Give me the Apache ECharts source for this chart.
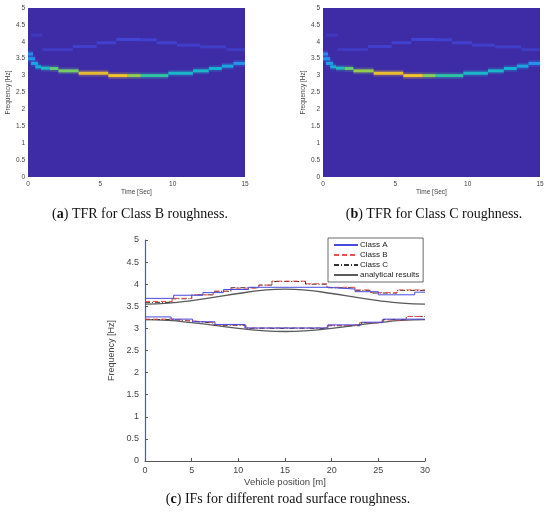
<!DOCTYPE html>
<html>
<head>
<meta charset="utf-8">
<script src="https://cdn.jsdelivr.net/npm/echarts@6/dist/echarts.min.js"></script>
<style>
  html, body { margin: 0; padding: 0; background: #fff; }
  #drew { width: 550px; height: 513px; }
</style>
</head>
<body>
<div id="drew"></div>
<script>
// ridge cells of the time-frequency pictures (a) and (b)
var tfrStart = [0, 0, 0.2, 0.5, 0.9, 1.5, 2.1, 3.5, 5.55, 6.9, 7.8, 9.7, 11.4, 12.5, 13.4, 14.2,
                0.2, 1.0, 3.1, 4.75, 6.1, 7.75, 8.9, 10.3, 11.9, 13.7];
var tfrEnd   = [0.35, 0.5, 0.7, 0.9, 1.5, 2.1, 3.5, 5.55, 6.9, 7.8, 9.7, 11.4, 12.5, 13.4, 14.2, 15,
                1.0, 3.1, 4.75, 6.1, 7.75, 8.9, 10.3, 11.9, 13.7, 15];
var tfrFreq  = [3.64, 3.5, 3.36, 3.26, 3.22, 3.21, 3.14, 3.07, 3.0, 3.0, 3.0, 3.07, 3.14, 3.21, 3.28, 3.36,
                4.2, 3.77, 3.86, 3.97, 4.07, 4.06, 3.97, 3.9, 3.85, 3.77];
var tfrLevelB = [0.25, 0.28, 0.32, 0.36, 0.42, 0.55, 0.58, 0.74, 0.78, 0.62, 0.48, 0.4, 0.4, 0.38, 0.34, 0.28,
                 0.04, 0.05, 0.06, 0.07, 0.08, 0.07, 0.065, 0.06, 0.055, 0.05];
var tfrLevelC = [0.25, 0.28, 0.32, 0.36, 0.42, 0.56, 0.62, 0.76, 0.78, 0.6, 0.47, 0.4, 0.4, 0.38, 0.34, 0.28,
                 0.04, 0.05, 0.06, 0.07, 0.08, 0.07, 0.065, 0.06, 0.055, 0.05];

// instantaneous frequencies, panel (c)
var classAUpperX = [0, 3.07, 6.2, 8.4, 11.1, 19.5, 22.5, 25, 28.9, 30];
var classAUpperY = [3.68, 3.75, 3.81, 3.88, 3.93, 3.89, 3.83, 3.76, 3.82, 3.82];
var classALowerX = [0, 2.8, 5.1, 7.5, 10.7, 19.6, 23.2, 25.5, 30];
var classALowerY = [3.26, 3.21, 3.15, 3.09, 3.01, 3.08, 3.14, 3.21, 3.21];
var classBUpperX = [0, 2.9, 5, 7.3, 9.2, 12.2, 13.6, 17.2, 19.5, 22.5, 24.2, 27, 30];
var classBUpperY = [3.61, 3.68, 3.76, 3.84, 3.91, 3.98, 4.07, 4.01, 3.93, 3.87, 3.81, 3.87, 3.87];
var classBLowerX = [0, 3, 5.2, 7.4, 10.8, 19.5, 23, 25.4, 28, 30];
var classBLowerY = [3.21, 3.17, 3.13, 3.08, 3.01, 3.07, 3.13, 3.19, 3.27, 3.27];
var classCUpperX = [0, 2.9, 5, 7.3, 9.2, 12.2, 13.6, 17.2, 19.5, 22.5, 24.2, 27, 30];
var classCUpperY = [3.59, 3.67, 3.76, 3.84, 3.92, 3.98, 4.06, 4.0, 3.92, 3.86, 3.8, 3.86, 3.86];
var classCLowerX = [0, 3, 5.3, 7.4, 10.8, 19.5, 23, 25.5, 28, 30];
var classCLowerY = [3.2, 3.16, 3.12, 3.07, 3.0, 3.06, 3.13, 3.2, 3.27, 3.27];
var analyticX = [0, 2.5, 5, 7.5, 10, 12.5, 15, 17.5, 20, 22.5, 25, 27.5, 30];
var analyticUpper = [3.55, 3.57, 3.63, 3.71, 3.79, 3.86, 3.89, 3.86, 3.79, 3.71, 3.63, 3.57, 3.55];
var analyticLower = [3.2, 3.18, 3.13, 3.07, 3.0, 2.95, 2.93, 2.95, 3.0, 3.07, 3.13, 3.18, 3.2];

function cells(levels) {
  return tfrStart.map(function (t, i) { return [t, tfrEnd[i], tfrFreq[i], levels[i]]; });
}
function pairs(xs, ys) {
  return xs.map(function (x, i) { return [x, ys[i]]; });
}

function renderTfr(params, api) {
  var a = api.coord([api.value(0), api.value(2) + 0.045]);
  var b = api.coord([api.value(1), api.value(2) - 0.045]);
  var g1 = api.coord([api.value(0), api.value(2) + 0.1]);
  var g2 = api.coord([api.value(1), api.value(2) - 0.1]);
  var col = api.visual('color');
  var faint = api.value(3) < 0.2;
  return {
    type: 'group',
    children: [
      { type: 'rect', shape: { x: g1[0], y: g1[1], width: g2[0] - g1[0], height: g2[1] - g1[1] },
        style: { fill: col, opacity: faint ? 0 : 0.22 } },
      { type: 'rect', shape: { x: a[0], y: a[1], width: b[0] - a[0], height: b[1] - a[1] },
        style: { fill: col } }
    ]
  };
}

var sans = 'Liberation Sans';
var serif = 'Liberation Serif';
var tickCol = '#444';

function tfrX(gi) {
  return {
    type: 'value', gridIndex: gi, min: 0, max: 15, interval: 5,
    name: 'Time [Sec]', nameLocation: 'middle', nameGap: 12,
    nameTextStyle: { fontFamily: sans, fontSize: 6.5, color: tickCol },
    axisLine: { show: false }, axisTick: { show: false }, splitLine: { show: false },
    axisLabel: { fontFamily: sans, fontSize: 6.5, color: tickCol, margin: 4 }
  };
}
function tfrY(gi) {
  return {
    type: 'value', gridIndex: gi, min: 0, max: 5, interval: 0.5,
    name: 'Frequency [Hz]', nameLocation: 'middle', nameGap: 15,
    nameTextStyle: { fontFamily: sans, fontSize: 6.5, color: tickCol },
    axisLine: { show: false }, axisTick: { show: false }, splitLine: { show: false },
    axisLabel: { fontFamily: sans, fontSize: 6.5, color: tickCol, margin: 3 }
  };
}
function caption(letter, text, x, y) {
  return {
    text: '({b|' + letter + '}) ' + text, left: x, top: y, textAlign: 'center',
    textStyle: { fontFamily: serif, fontSize: 14, fontWeight: 'normal', color: '#111',
      rich: { b: { fontFamily: serif, fontSize: 14, fontWeight: 'bold', color: '#111' } } }
  };
}

function stepLine(name, data, color, type, z) {
  return {
    type: 'line', name: name, xAxisIndex: 2, yAxisIndex: 2, data: data,
    step: 'end', symbol: 'none', z: z,
    lineStyle: { color: color, width: 1, type: type },
    itemStyle: { color: color }
  };
}

var myChart = echarts.init(document.getElementById('drew'));
var option = {
  backgroundColor: '#fff',
  animation: false,
  title: [
    caption('a', 'TFR for Class B roughness.', 135, 202),
    caption('b', 'TFR for Class C roughness.', 429, 202),
    caption('c', 'IFs for different road surface roughness.', 283, 487)
  ],
  grid: [
    { left: 28, top: 8, width: 217, height: 169, show: true, backgroundColor: '#3e2ca6', borderWidth: 0 },
    { left: 323, top: 8, width: 217, height: 169, show: true, backgroundColor: '#3e2ca6', borderWidth: 0 },
    { left: 145, top: 240, width: 280, height: 221 }
  ],
  xAxis: [
    tfrX(0), tfrX(1),
    {
      type: 'value', gridIndex: 2, min: 0, max: 30, interval: 5,
      name: 'Vehicle position [m]', nameLocation: 'middle', nameGap: 16,
      nameTextStyle: { fontFamily: sans, fontSize: 9.5, color: tickCol },
      axisLine: { lineStyle: { color: '#555' } },
      axisTick: { inside: true, length: 3, lineStyle: { color: '#555' } },
      splitLine: { show: false },
      axisLabel: { fontFamily: sans, fontSize: 9, color: tickCol, margin: 5 }
    }
  ],
  yAxis: [
    tfrY(0), tfrY(1),
    {
      type: 'value', gridIndex: 2, min: 0, max: 5, interval: 0.5,
      name: 'Frequency [Hz]', nameLocation: 'middle', nameGap: 27,
      nameTextStyle: { fontFamily: sans, fontSize: 9, color: tickCol },
      axisLine: { lineStyle: { color: '#4f4fe0', width: 1.2 } },
      axisTick: { inside: true, length: 3, lineStyle: { color: '#555' } },
      splitLine: { show: false },
      axisLabel: { fontFamily: sans, fontSize: 9, color: tickCol, margin: 6 }
    }
  ],
  visualMap: {
    show: false, type: 'continuous', min: 0, max: 1, dimension: 3, seriesIndex: [0, 1],
    inRange: { color: ['#3e2ca6', '#4352f0', '#2c87f5', '#14b1d6', '#37c897', '#98cc4e', '#ecba33', '#f9dc1f', '#f9fb0e'] }
  },
  legend: {
    data: ['Class A', 'Class B', 'Class C', 'analytical results'],
    orient: 'vertical', left: 328, top: 238,
    backgroundColor: '#fff', borderColor: '#444', borderWidth: 0.8,
    padding: [3, 4, 3, 5], itemGap: 2, itemWidth: 24, itemHeight: 8,
    itemStyle: { opacity: 0 },
    textStyle: { fontFamily: sans, fontSize: 8, color: '#222', padding: [0, 0, 0, -3] }
  },
  series: [
    { type: 'custom', xAxisIndex: 0, yAxisIndex: 0, renderItem: renderTfr, clip: true,
      encode: { x: [0, 1], y: 2 }, data: cells(tfrLevelB) },
    { type: 'custom', xAxisIndex: 1, yAxisIndex: 1, renderItem: renderTfr, clip: true,
      encode: { x: [0, 1], y: 2 }, data: cells(tfrLevelC) },
    { type: 'line', name: 'analytical results', xAxisIndex: 2, yAxisIndex: 2, smooth: true, symbol: 'none', z: 2,
      data: pairs(analyticX, analyticUpper), lineStyle: { color: '#5a5a5a', width: 1.3 }, itemStyle: { color: '#5a5a5a' } },
    { type: 'line', name: 'analytical results', xAxisIndex: 2, yAxisIndex: 2, smooth: true, symbol: 'none', z: 2,
      data: pairs(analyticX, analyticLower), lineStyle: { color: '#5a5a5a', width: 1.3 }, itemStyle: { color: '#5a5a5a' } },
    stepLine('Class C', pairs(classCUpperX, classCUpperY), '#333', [5, 2, 1, 2], 3),
    stepLine('Class C', pairs(classCLowerX, classCLowerY), '#333', [5, 2, 1, 2], 3),
    stepLine('Class B', pairs(classBUpperX, classBUpperY), '#e8504a', [5, 3], 4),
    stepLine('Class B', pairs(classBLowerX, classBLowerY), '#e8504a', [5, 3], 4),
    stepLine('Class A', pairs(classAUpperX, classAUpperY), '#4a4ae0', 'solid', 5),
    stepLine('Class A', pairs(classALowerX, classALowerY), '#4a4ae0', 'solid', 5)
  ]
};
myChart.setOption(option);
</script>
</body>
</html>
